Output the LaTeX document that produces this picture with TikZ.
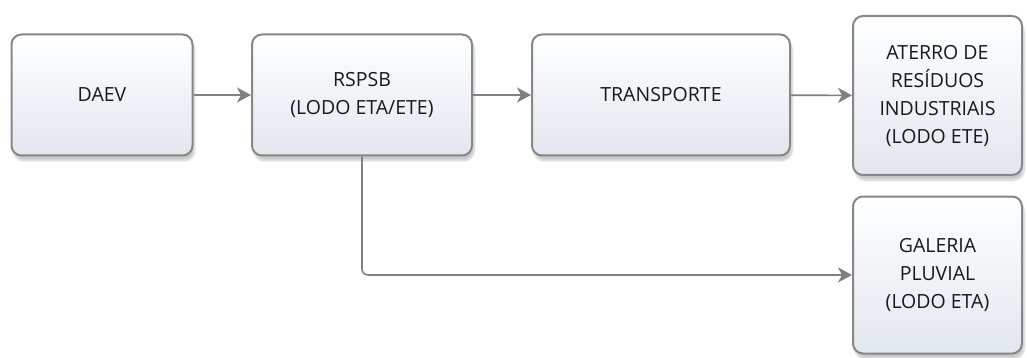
\documentclass[tikz,border=0pt]{standalone}
\usepackage{fontspec}
\setmainfont{Open Sans}
\usetikzlibrary{arrows.meta,shadows.blur}
\definecolor{boxline}{RGB}{135,135,135}
\definecolor{boxfill}{RGB}{226,230,238}
\definecolor{arrowgray}{RGB}{128,128,128}
\definecolor{textgray}{RGB}{25,25,25}
\tikzset{
  stagebox/.style={draw=boxline,line width=2pt,rounded corners=10pt,
    top color=white,bottom color=boxfill,align=center,text=textgray,
    font=\fontsize{19.5}{28}\selectfont,inner sep=0pt,
    blur shadow={shadow xshift=2pt,shadow yshift=-5pt,shadow blur steps=8,shadow opacity=22}},
  flow/.style={draw=arrowgray,line width=1.6pt,
    -{Stealth[length=14pt,width=15pt,inset=4pt]}}
}
\begin{document}
\begin{tikzpicture}[x=1pt,y=-1pt]
  \useasboundingbox (0,0) rectangle (1027,358);
  % boxes of the flow
  \node[stagebox,minimum width=181pt,minimum height=121pt] (daev) at (102,95) {DAEV};
  \node[stagebox,minimum width=220pt,minimum height=121pt] (rspsb) at (362,95) {RSPSB\\(LODO ETA/ETE)};
  \node[stagebox,minimum width=258pt,minimum height=121pt] (transp) at (661,95) {TRANSPORTE};
  \node[stagebox,minimum width=169pt,minimum height=159pt] (aterro) at (937.5,95.5) {ATERRO DE\\RESÍDUOS\\INDUSTRIAIS\\(LODO ETE)};
  \node[stagebox,minimum width=169pt,minimum height=157pt] (galeria) at (937.5,275) {GALERIA\\PLUVIAL\\(LODO ETA)};
  % connectors
  \draw[flow] (daev) -- (rspsb);
  \draw[flow] (rspsb) -- (transp);
  \draw[flow] (transp) -- (aterro);
  \draw[flow,rounded corners=6pt] (rspsb.south) |- (galeria.west);
\end{tikzpicture}
\end{document}
